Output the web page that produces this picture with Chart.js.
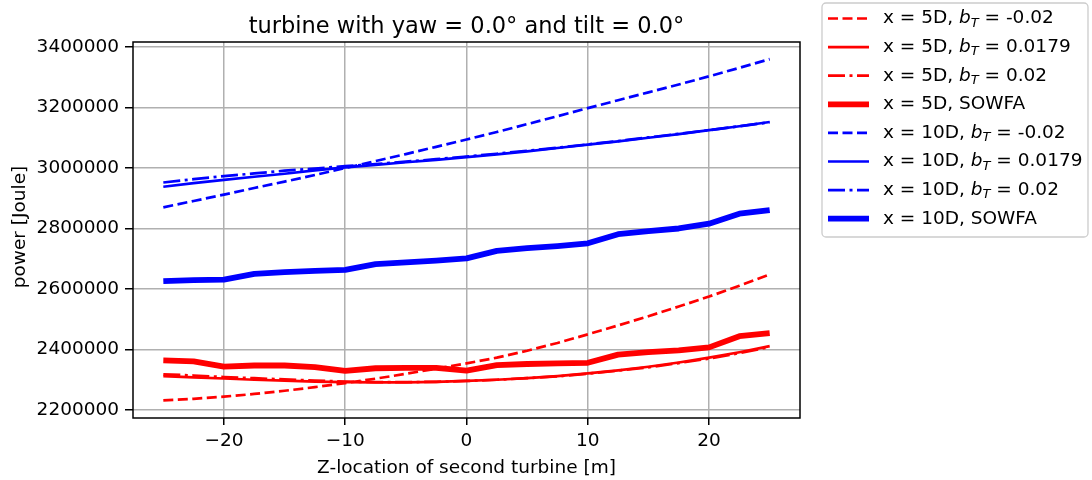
<!DOCTYPE html>
<html>
<head>
<meta charset="utf-8">
<script src="https://cdn.jsdelivr.net/npm/chart.js@4"></script>
<style>
    html, body { margin: 0; padding: 0; background: #ffffff; }
    #wrap { width: 1092px; height: 480px; position: relative; }
</style>
</head>
<body>
<div id="wrap"><canvas id="powerChart" width="1092" height="480"></canvas></div>
<script>
// Z-location of second turbine [m]
const zLocations = [-25, -22.5, -20, -17.5, -15, -12.5, -10, -7.5, -5, -2.5, 0, 2.5, 5, 7.5, 10, 12.5, 15, 17.5, 20, 22.5, 25];

// x = 5D
const p5dNeg = [2232000, 2237000, 2244000, 2253000, 2263500, 2275500, 2289000, 2303500, 2319500, 2336500, 2354000, 2373000, 2396000, 2421500, 2450000, 2479500, 2510000, 2542000, 2575000, 2610500, 2648000];
const p5d0179 = [2312000, 2308000, 2304000, 2300000, 2297000, 2294000, 2292000, 2291000, 2291000, 2293000, 2296000, 2300000, 2305000, 2312000, 2321000, 2331000, 2343000, 2357000, 2373000, 2391000, 2411000];
const p5d002 = [2318000, 2314000, 2309000, 2305000, 2301000, 2297000, 2294000, 2292000, 2292000, 2293000, 2296000, 2300000, 2305000, 2311000, 2320000, 2330000, 2341000, 2355000, 2370000, 2388000, 2408000];
const p5dSowfa = [2364000, 2361000, 2343000, 2347000, 2347000, 2342000, 2329000, 2338000, 2339000, 2339000, 2330000, 2348000, 2352000, 2354000, 2356000, 2383000, 2391000, 2397000, 2407000, 2444000, 2454000];

// x = 10D
const p10dNeg = [2870000, 2891000, 2912000, 2934000, 2955000, 2977000, 3000000, 3023000, 3046000, 3070000, 3094000, 3119000, 3145000, 3171000, 3198000, 3224000, 3250000, 3276000, 3303000, 3331000, 3360000];
const p10d0179 = [2938000, 2950000, 2961000, 2971000, 2981000, 2992000, 3002000, 3010000, 3019000, 3027000, 3036000, 3045000, 3055000, 3066000, 3077000, 3088000, 3100000, 3112000, 3125000, 3138000, 3152000];
const p10d002 = [2952000, 2963000, 2973000, 2982000, 2991000, 2998000, 3006000, 3013000, 3021000, 3029000, 3038000, 3047000, 3057000, 3067000, 3078000, 3089000, 3101000, 3113000, 3125000, 3138000, 3151000];
const p10dSowfa = [2626000, 2629000, 2631000, 2650000, 2656000, 2660000, 2663000, 2682000, 2688000, 2694000, 2701000, 2726000, 2735000, 2742000, 2751000, 2781000, 2791000, 2800000, 2816000, 2849000, 2861000];

// tick values
const xTickValues = [-20, -10, 0, 10, 20];
const yTickValues = [2200000, 2400000, 2600000, 2800000, 3000000, 3200000, 3400000];

const FONT = "'DejaVu Sans', sans-serif";
const THIN = 2.7;
const THICK = 5.8;
const DASHED = [10, 4.5];
const DASHDOT = [17, 4.5, 3, 4.5];

// legend entries: [prefix, value, colour, width, dash]
const legendItems = [
    ['x = 5D, ', ' = -0.02', '#ff0000', THIN, DASHED],
    ['x = 5D, ', ' = 0.0179', '#ff0000', THIN, []],
    ['x = 5D, ', ' = 0.02', '#ff0000', THIN, DASHDOT],
    ['x = 5D, SOWFA', null, '#ff0000', THICK, []],
    ['x = 10D, ', ' = -0.02', '#0000ff', THIN, DASHED],
    ['x = 10D, ', ' = 0.0179', '#0000ff', THIN, []],
    ['x = 10D, ', ' = 0.02', '#0000ff', THIN, DASHDOT],
    ['x = 10D, SOWFA', null, '#0000ff', THICK, []]
];

function series(values, color, width, dash) {
    return {
        data: zLocations.map((z, i) => ({ x: z, y: values[i] })),
        borderColor: color,
        backgroundColor: color,
        borderWidth: width,
        borderDash: dash,
        borderCapStyle: 'butt',
        borderJoinStyle: 'round',
        pointRadius: 0,
        tension: 0,
        fill: false
    };
}

// Frame, title, axis labels and legend
const decorations = {
    id: 'decorations',
    afterDraw(chart) {
        const ctx = chart.ctx;
        const a = chart.chartArea;
        ctx.save();

        ctx.strokeStyle = '#000000';
        ctx.lineWidth = 1.5;
        ctx.strokeRect(a.left, a.top, a.right - a.left, a.bottom - a.top);

        ctx.fillStyle = '#000000';
        ctx.textAlign = 'center';
        ctx.textBaseline = 'alphabetic';
        ctx.font = `22.5px ${FONT}`;
        ctx.fillText('turbine with yaw = 0.0° and tilt = 0.0°', (a.left + a.right) / 2, 33);

        ctx.textBaseline = 'middle';
        ctx.font = `18.5px ${FONT}`;
        ctx.fillText('Z-location of second turbine [m]', (a.left + a.right) / 2, 468);
        ctx.save();
        ctx.translate(20, (a.top + a.bottom) / 2 - 3);
        ctx.rotate(-Math.PI / 2);
        ctx.fillText('power [Joule]', 0, 0);
        ctx.restore();

        // legend box
        const bx = 822, by = 3, bw = 266, bh = 234, r = 4;
        ctx.beginPath();
        ctx.moveTo(bx + r, by);
        ctx.arcTo(bx + bw, by, bx + bw, by + bh, r);
        ctx.arcTo(bx + bw, by + bh, bx, by + bh, r);
        ctx.arcTo(bx, by + bh, bx, by, r);
        ctx.arcTo(bx, by, bx + bw, by, r);
        ctx.closePath();
        ctx.fillStyle = 'rgba(255,255,255,0.8)';
        ctx.fill();
        ctx.strokeStyle = '#cccccc';
        ctx.lineWidth = 1.3;
        ctx.stroke();

        ctx.textAlign = 'left';
        legendItems.forEach((item, i) => {
            const y = 18.5 + i * 28.6;
            ctx.beginPath();
            ctx.strokeStyle = item[2];
            ctx.lineWidth = item[3];
            ctx.setLineDash(item[4]);
            ctx.moveTo(828, y);
            ctx.lineTo(869, y);
            ctx.stroke();
            ctx.setLineDash([]);

            ctx.fillStyle = '#000000';
            ctx.font = `18.5px ${FONT}`;
            let x = 883;
            ctx.fillText(item[0], x, y);
            if (item[1] !== null) {
                x += ctx.measureText(item[0]).width;
                ctx.font = `italic 18.5px ${FONT}`;
                ctx.fillText('b', x, y);
                x += ctx.measureText('b').width;
                ctx.font = `italic 13px ${FONT}`;
                ctx.fillText('T', x, y + 5);
                x += ctx.measureText('T').width;
                ctx.font = `18.5px ${FONT}`;
                ctx.fillText(item[1], x, y);
            }
        });
        ctx.restore();
    }
};

new Chart(document.getElementById('powerChart').getContext('2d'), {
    type: 'line',
    data: {
        datasets: [
            series(p5dNeg, '#ff0000', THIN, DASHED),
            series(p5d0179, '#ff0000', THIN, []),
            series(p5d002, '#ff0000', THIN, DASHDOT),
            series(p5dSowfa, '#ff0000', THICK, []),
            series(p10dNeg, '#0000ff', THIN, DASHED),
            series(p10d0179, '#0000ff', THIN, []),
            series(p10d002, '#0000ff', THIN, DASHDOT),
            series(p10dSowfa, '#0000ff', THICK, [])
        ]
    },
    options: {
        responsive: false,
        animation: false,
        devicePixelRatio: 1,
        layout: { padding: { left: 0, right: 292, top: 42, bottom: 0 } },
        plugins: {
            legend: { display: false },
            title: { display: false },
            tooltip: { enabled: false }
        },
        scales: {
            x: {
                type: 'linear',
                min: -27.5,
                max: 27.5,
                afterBuildTicks: (scale) => { scale.ticks = xTickValues.map(v => ({ value: v })); },
                afterFit: (scale) => { scale.height = 62; },
                border: { display: false },
                grid: { color: '#b0b0b0', lineWidth: 1.5, tickColor: '#000000', tickLength: 7 },
                ticks: {
                    color: '#000000',
                    font: { family: FONT, size: 18.5 },
                    padding: 5,
                    maxRotation: 0,
                    callback: (v) => String(v).replace('-', '\u2212')
                }
            },
            y: {
                type: 'linear',
                min: 2173500,
                max: 3416500,
                afterBuildTicks: (scale) => { scale.ticks = yTickValues.map(v => ({ value: v })); },
                afterFit: (scale) => { scale.width = 133; },
                border: { display: false },
                grid: { color: '#b0b0b0', lineWidth: 1.5, tickColor: '#000000', tickLength: 8 },
                ticks: {
                    color: '#000000',
                    font: { family: FONT, size: 18.5 },
                    padding: 6,
                    callback: (v) => String(v)
                }
            }
        }
    },
    plugins: [decorations]
});
</script>
</body>
</html>
